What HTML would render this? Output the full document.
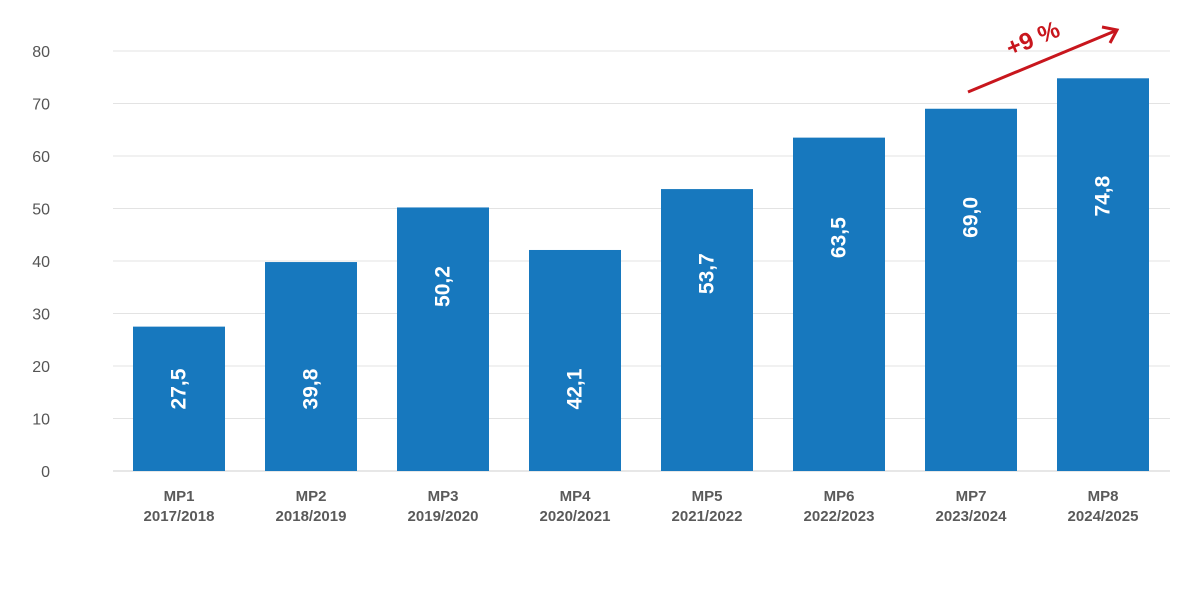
<!DOCTYPE html>
<html><head><meta charset="utf-8"><style>
body{margin:0;background:#fff}
svg{display:block;font-family:"Liberation Sans",sans-serif}
</style></head><body>
<svg id="chart" width="1200" height="605">
<g id="grid"></g><g id="bars"></g><g id="labels"></g>
<g>
<line x1="968" y1="92" x2="1115" y2="31" stroke="#c8161d" stroke-width="3"/>
<polyline points="1102,27 1117,30 1110,43" fill="none" stroke="#c8161d" stroke-width="3"/>
<text x="1036" y="46" transform="rotate(-22.5 1036 46)" text-anchor="middle" fill="#c8161d" font-size="24" font-weight="bold">+9 %</text>
</g>
</svg>
<script>
const categories=["MP1","MP2","MP3","MP4","MP5","MP6","MP7","MP8"];
const years=["2017/2018","2018/2019","2019/2020","2020/2021","2021/2022","2022/2023","2023/2024","2024/2025"];
const values=[27.5,39.8,50.2,42.1,53.7,63.5,69.0,74.8];
const ticks=[0,10,20,30,40,50,60,70,80];
const NS="http://www.w3.org/2000/svg";
const y0=471, pxPer=5.25;
const y=v=>y0-v*pxPer;
const x=i=>133+i*132;
const bw=92;
function mk(t,a,p){const e=document.createElementNS(NS,t);for(const k in a)e.setAttribute(k,a[k]);p.appendChild(e);return e;}
const grid=document.getElementById('grid'),bars=document.getElementById('bars'),labels=document.getElementById('labels');
ticks.forEach(t=>{
 const l=mk('line',{x1:113,x2:1170,y1:y(t),y2:y(t),stroke:t===0?'#cfcfcf':'#e3e3e3','stroke-width':1},grid);
 
 
 const tx=mk('text',{x:50,y:y(t)+6,'text-anchor':'end',fill:'#555','font-size':16},grid);
 tx.textContent=t;
 
 
});
values.forEach((v,i)=>{
 const r=mk('rect',{x:x(i),y:y(v),width:bw,height:y0-y(v),fill:'#1778be'},bars);
 
 
 const cx=x(i)+bw/2, cy=Math.min((y(v)+y0)/2, y0-90);
 const cyy=(v<45)?y0-82:y(v)+(y0-y(v))*0.3;
 const t=mk('text',{x:cx,y:cyy,transform:`rotate(-90 ${cx} ${cyy})`,'text-anchor':'middle','dominant-baseline':'central',fill:'#fff','font-size':21,'font-weight':'bold'},bars);
 t.textContent=v.toFixed(1).replace('.',',');
 
 
 const c=mk('text',{x:cx,y:501,'text-anchor':'middle',fill:'#5a5a5a','font-size':15,'font-weight':'bold'},labels);
 c.textContent=categories[i];
 
 
 const yr=mk('text',{x:cx,y:521,'text-anchor':'middle',fill:'#5a5a5a','font-size':15,'font-weight':'bold'},labels);
 yr.textContent=years[i];
 
 
});
</script>
</body></html>
